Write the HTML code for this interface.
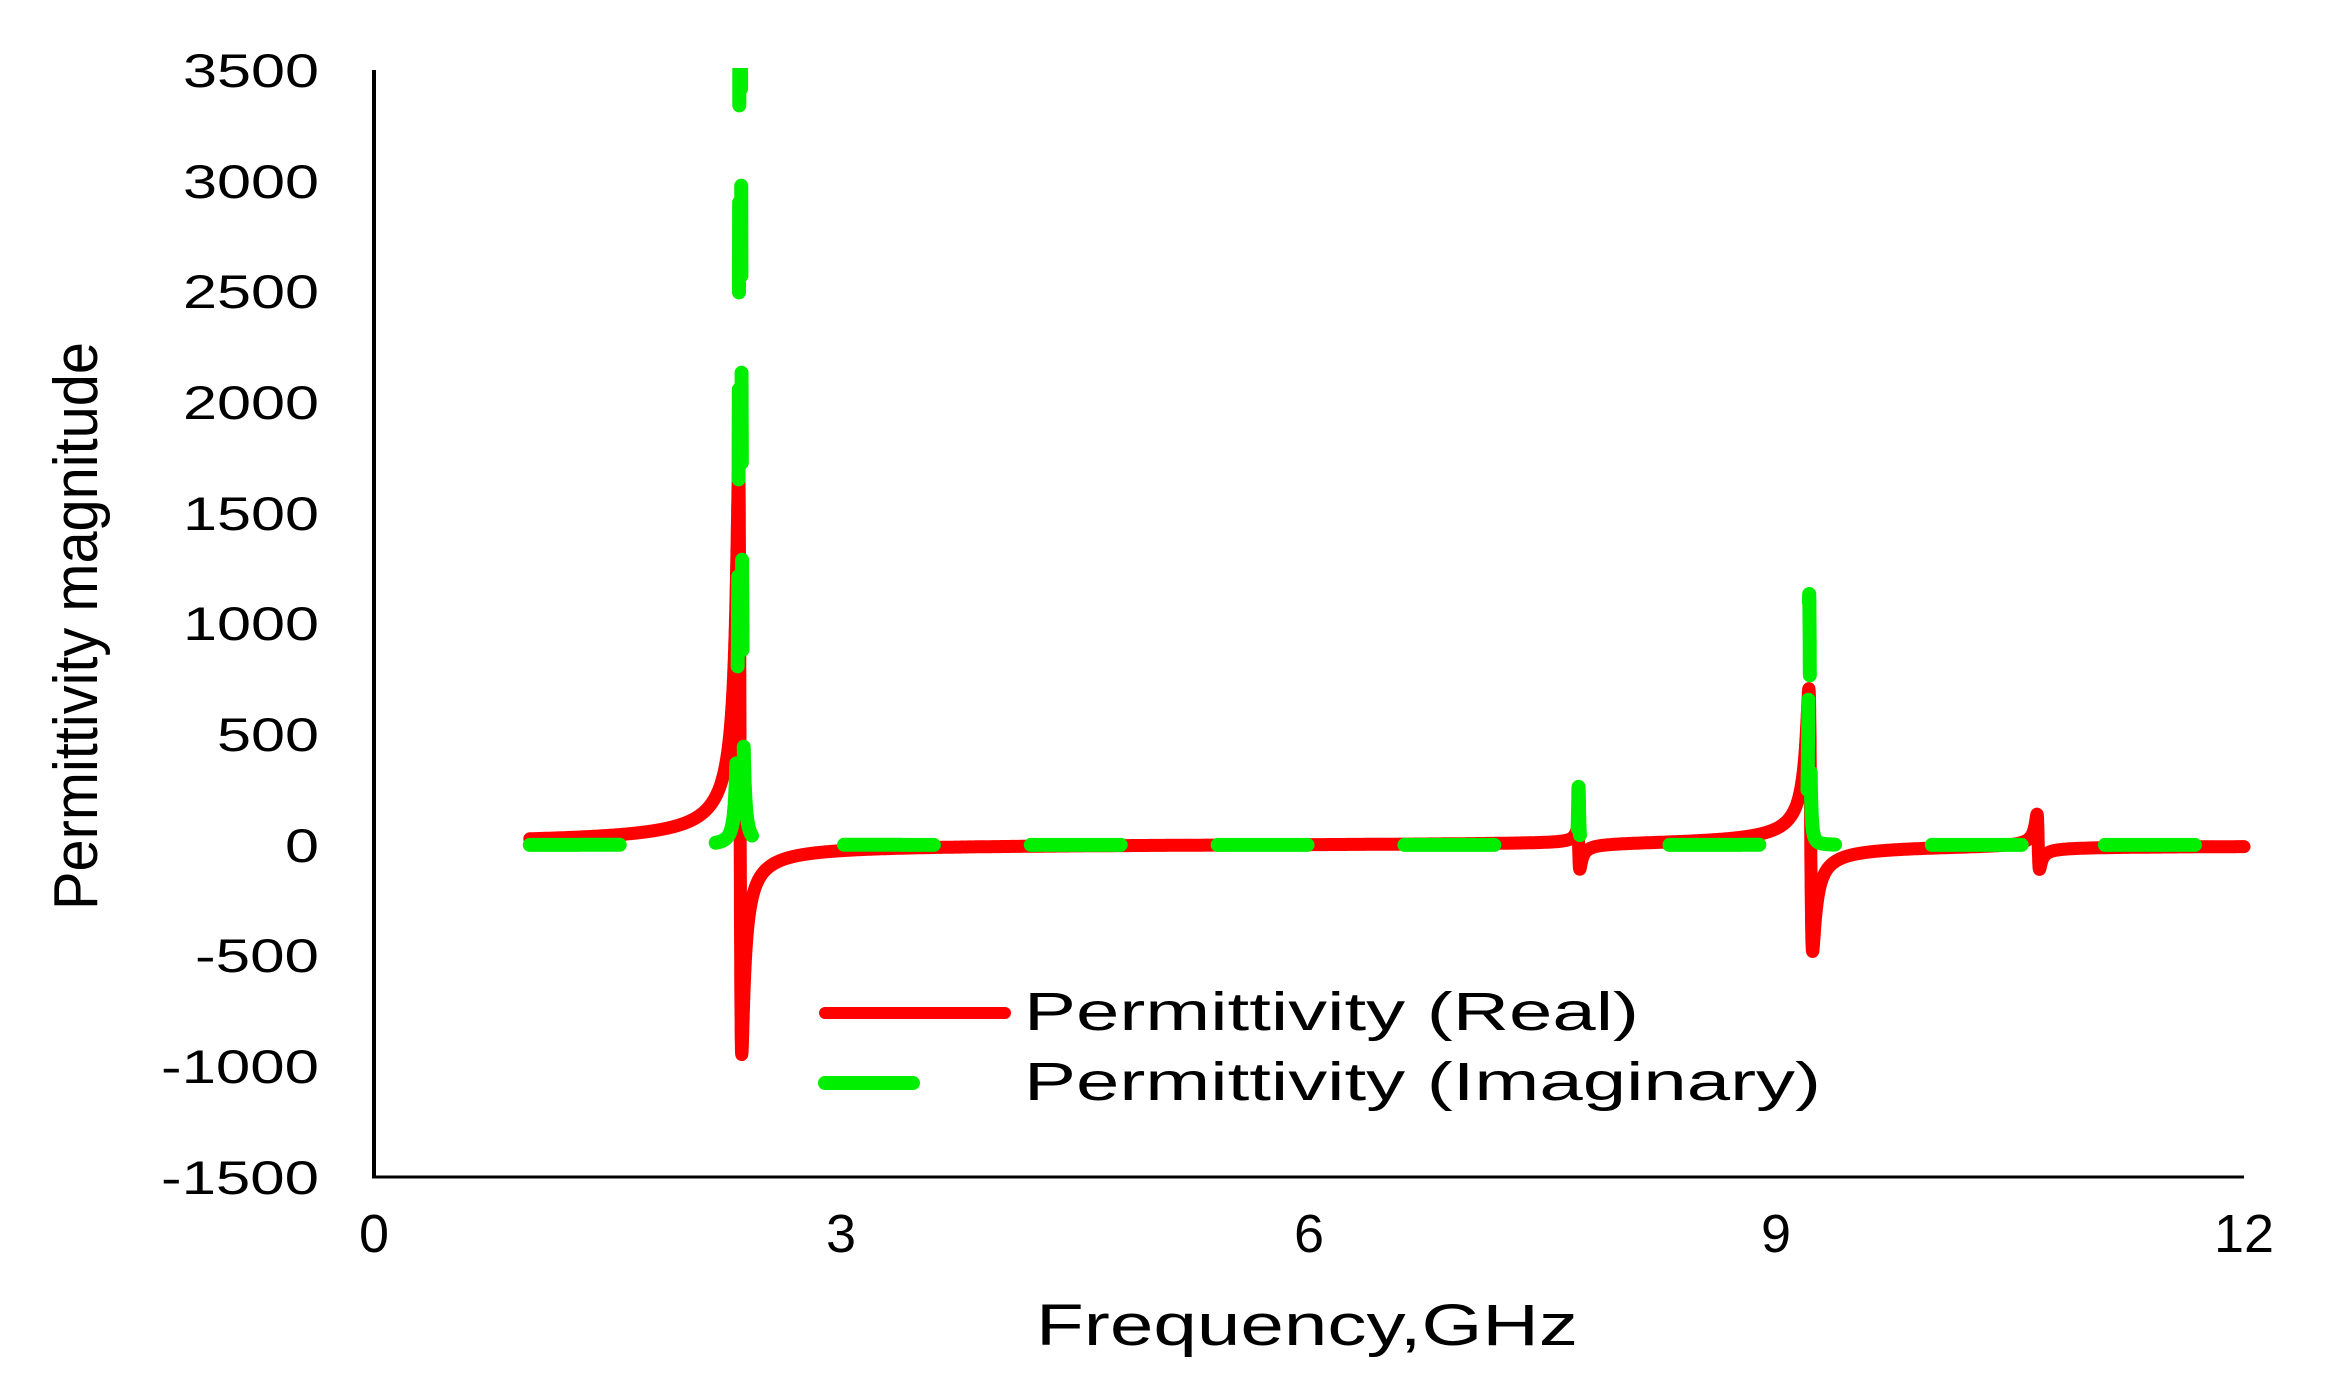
<!DOCTYPE html>
<html><head><meta charset="utf-8">
<style>html,body{margin:0;padding:0;background:#fff}svg{display:block}</style>
</head><body>
<svg id="s" width="2336" height="1386" viewBox="0 0 2336 1386" xmlns="http://www.w3.org/2000/svg" font-family="Liberation Sans, Arial, sans-serif">
<defs><clipPath id="c"><rect x="374" y="68" width="1890" height="1112"/></clipPath></defs>
<line x1="374" y1="70" x2="374" y2="1178" stroke="#000" stroke-width="4"/>
<line x1="372" y1="1177" x2="2244" y2="1177" stroke="#000" stroke-width="3"/>
<g font-size="47" fill="#000" text-anchor="end">
<text x="319" y="87" textLength="136" lengthAdjust="spacingAndGlyphs">3500</text>
<text x="319" y="198" textLength="136" lengthAdjust="spacingAndGlyphs">3000</text>
<text x="319" y="308" textLength="136" lengthAdjust="spacingAndGlyphs">2500</text>
<text x="319" y="419" textLength="136" lengthAdjust="spacingAndGlyphs">2000</text>
<text x="319" y="530" textLength="136" lengthAdjust="spacingAndGlyphs">1500</text>
<text x="319" y="640" textLength="136" lengthAdjust="spacingAndGlyphs">1000</text>
<text x="319" y="751" textLength="102" lengthAdjust="spacingAndGlyphs">500</text>
<text x="319" y="862" textLength="34" lengthAdjust="spacingAndGlyphs">0</text>
<text x="319" y="972" textLength="124" lengthAdjust="spacingAndGlyphs">-500</text>
<text x="319" y="1083" textLength="158" lengthAdjust="spacingAndGlyphs">-1000</text>
<text x="319" y="1194" textLength="158" lengthAdjust="spacingAndGlyphs">-1500</text>
</g>
<g font-size="54" fill="#000" text-anchor="middle">
<text x="374" y="1252">0</text>
<text x="841" y="1252">3</text>
<text x="1309" y="1252">6</text>
<text x="1776" y="1252">9</text>
<text x="2244" y="1252">12</text>
</g>
<text x="1036" y="1345" font-size="58" textLength="542" lengthAdjust="spacingAndGlyphs">Frequency,GHz</text>
<text transform="translate(97,910) rotate(-90)" font-size="62" textLength="568" lengthAdjust="spacingAndGlyphs">Permittivity magnitude</text>
<g clip-path="url(#c)">
<path id="red" fill="none" stroke="#ff0000" stroke-width="13" stroke-linejoin="round" stroke-linecap="round"/>
<path id="grn" fill="none" stroke="#00ee00" stroke-width="14" stroke-linejoin="round" stroke-linecap="round" stroke-dasharray="90 97"/>
</g>
<line x1="825" y1="1013" x2="1005" y2="1013" stroke="#ff0000" stroke-width="12" stroke-linecap="round"/>
<line x1="825" y1="1083" x2="913" y2="1083" stroke="#00ee00" stroke-width="14" stroke-linecap="round"/>
<text x="1024" y="1030" font-size="54" textLength="615" lengthAdjust="spacingAndGlyphs">Permittivity (Real)</text>
<text x="1024" y="1100" font-size="54" textLength="797" lengthAdjust="spacingAndGlyphs">Permittivity (Imaginary)</text>
</svg>
<script>
(function(){
var X=function(f){return 374+f*155.83;}, Y=function(v){return 70+(3500-v)*0.2214;};
var R=[[2.35,0.01,34,19],[7.73,0.008,1.0,1.9],[9.22,0.012,17,11.5],[10.68,0.008,2.4,1.6]];
var G=[[2.35,0.006,40],[7.73,0.004,1.05],[9.21,0.006,6.8],[10.69,0.006,0.25]];
function re(f){var s=0;for(var i=0;i<R.length;i++){var r=R[i],d=r[0]-f;var A=d>0?r[2]:r[3];s+=A*d/(d*d+r[1]*r[1]);}return s;}
function im(f){var s=0;for(var i=0;i<G.length;i++){var g=G[i],d=g[0]-f;s+=g[2]*g[1]/(d*d+g[1]*g[1]);}return s;}
var pr=[],pg=[];
for(var f=1;f<=12.0001;f+=0.0005){
var vr=re(f),vg=im(f);if(vg>4000)vg=4000;
pr.push(X(f).toFixed(1)+","+Y(vr).toFixed(1));
pg.push(X(f).toFixed(1)+","+Y(vg).toFixed(1));}
document.getElementById("red").setAttribute("d","M"+pr.join("L"));
document.getElementById("grn").setAttribute("d","M"+pg.join("L"));
})();
</script>
</body></html>
